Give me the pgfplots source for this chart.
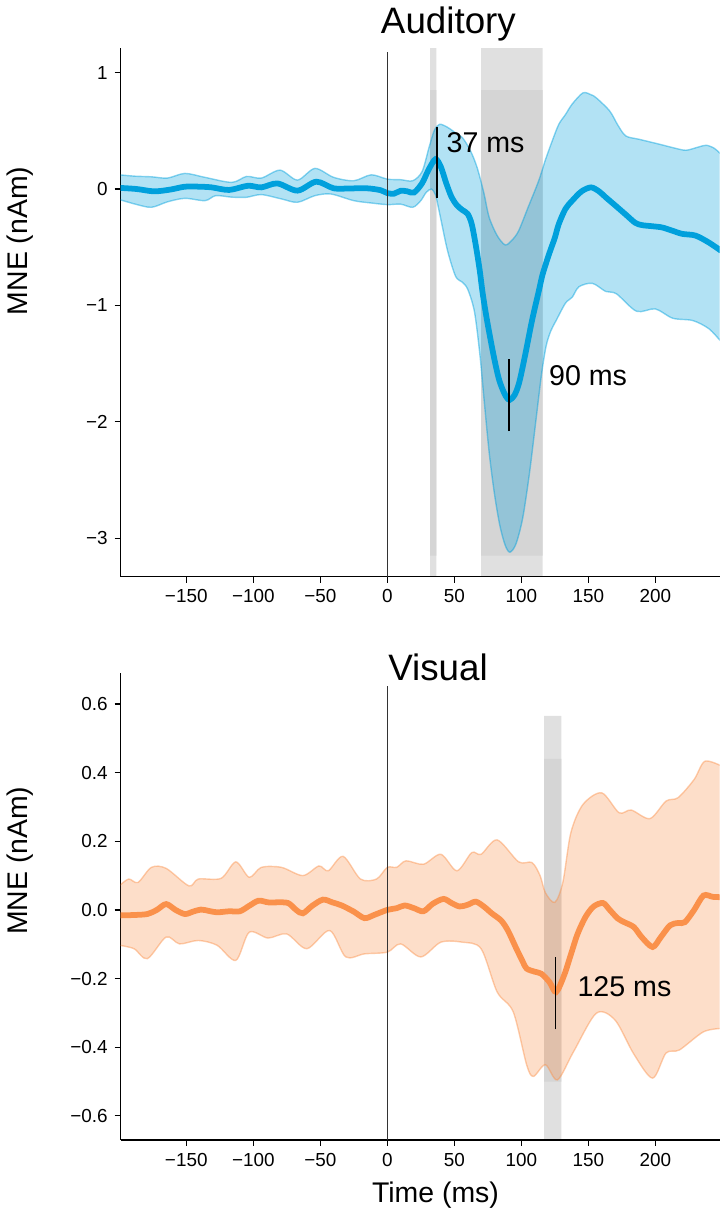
\documentclass[border=0pt]{standalone}
\usepackage{fontspec}
\setmainfont{Liberation Sans}
\usepackage{pgfplots}
\pgfplotsset{compat=1.18}
\usepgfplotslibrary{fillbetween}
\usepackage{pgfplotstable}

\definecolor{audblue}{RGB}{0,160,220}
\definecolor{visorange}{RGB}{250,145,75}
\definecolor{spanlight}{RGB}{224,224,224}
\definecolor{spandark}{RGB}{213,213,213}

% auditory: mean, lower and upper edge of the band
\pgfplotstableread{
t m
-200 0.01
-187 0.00
-174 -0.02
-162 -0.005
-151 0.02
-140 0.02
-131 0.014
-118 -0.008
-104 0.028
-94 0.014
-82 0.048
-67 -0.014
-53 0.063
-40 0.006
-28 0.005
-15 0.006
-5 -0.01
0 -0.035
5 -0.04
10 -0.015
15 -0.02
20 -0.03
26 0.05
31 0.17
36 0.256
40 0.19
44 0.05
48 -0.07
52 -0.14
56 -0.18
60 -0.214
63 -0.3
66 -0.48
69 -0.70
71 -0.88
74 -1.10
79 -1.41
83 -1.62
86 -1.72
89 -1.79
91.5 -1.81
95 -1.77
98.5 -1.66
103 -1.42
108 -1.13
113 -0.88
116 -0.73
121 -0.55
125 -0.42
128 -0.30
133 -0.17
138 -0.10
145 -0.02
152 0.014
158 -0.02
163 -0.071
170 -0.14
178 -0.22
185 -0.29
190 -0.31
198 -0.32
205 -0.33
212 -0.355
220 -0.385
230 -0.40
240 -0.46
249 -0.53
}\audmean

\pgfplotstableread{
t v
-200 0.122
-188 0.11
-176 0.105
-164 0.094
-151 0.134
-136 0.10
-116 0.057
-105 0.108
-94 0.094
-80 0.162
-67 0.077
-54 0.177
-40 0.10
-25 0.071
-12 0.122
0 0.085
10 0.08
19 0.071
26 0.15
31 0.35
35 0.50
39 0.556
45 0.53
50 0.49
56 0.442
62 0.33
67 0.186
72 -0.03
76 -0.242
82 -0.40
88 -0.48
93 -0.44
98 -0.36
105 -0.16
113 0.071
118 0.25
123 0.41
128 0.556
133 0.64
138 0.73
146 0.826
152 0.81
156 0.783
166 0.67
172 0.55
178 0.456
188 0.427
203 0.385
215 0.35
223 0.333
232 0.36
238 0.376
244 0.35
249 0.299
}\audup

\pgfplotstableread{
t v
-200 -0.09
-188 -0.13
-176 -0.157
-164 -0.11
-151 -0.08
-136 -0.10
-128 -0.057
-116 -0.07
-105 -0.071
-94 -0.048
-79 -0.085
-67 -0.114
-54 -0.057
-42 -0.043
-25 -0.10
-12 -0.12
0 -0.134
10 -0.13
19 -0.157
25 -0.10
29 -0.03
33 0.0
36 -0.05
38 -0.15
40 -0.26
45 -0.53
51 -0.75
56 -0.80
60 -0.86
65 -1.05
69 -1.41
72 -1.78
76 -2.26
80 -2.62
84 -2.89
88 -3.06
91.5 -3.12
96 -3.05
101 -2.83
106 -2.45
111 -1.98
115 -1.60
118.5 -1.35
122 -1.22
126 -1.13
133 -0.98
138 -0.93
143 -0.84
153 -0.81
163 -0.88
171 -0.90
186 -1.05
200 -1.03
213 -1.11
228 -1.13
240 -1.20
249 -1.31
}\audlo

% visual
\pgfplotstableread{
t m
-200 -0.016
-190 -0.015
-179 -0.012
-172 0.0
-165 0.017
-158 0.0
-151 -0.012
-145 -0.005
-139 0.001
-133 -0.003
-127 -0.007
-118 -0.004
-110 -0.004
-103 0.012
-96 0.027
-89 0.022
-82 0.022
-74 0.02
-68 0.0
-63 -0.01
-56 0.012
-48 0.03
-41 0.022
-34 0.013
-25 -0.005
-17 -0.024
-10 -0.015
0 0.0
7 0.005
13 0.013
20 0.005
27 -0.004
34 0.018
42 0.032
48 0.02
54 0.01
60 0.015
66 0.024
72 0.01
78 -0.01
85 -0.031
90 -0.06
96 -0.11
101 -0.15
104 -0.171
110 -0.18
115 -0.186
121 -0.21
126 -0.239
132 -0.19
137 -0.13
142 -0.07
148 -0.02
154 0.01
161 0.02
166 0.0
172 -0.025
177 -0.036
184 -0.05
190 -0.08
198 -0.108
204 -0.08
211 -0.045
217 -0.038
222 -0.036
229 0.0
236 0.042
243 0.038
250 0.037
}\vismean

\pgfplotstableread{
t v
-200 0.07
-193 0.09
-186 0.08
-176 0.124
-165 0.121
-148 0.07
-141 0.09
-124 0.092
-113 0.14
-103 0.095
-94 0.124
-79 0.124
-63 0.10
-51 0.128
-44 0.114
-33 0.156
-20 0.09
-8 0.09
0 0.124
7 0.124
14 0.143
27 0.133
40 0.162
52 0.114
63 0.167
70 0.162
82 0.204
98 0.14
108 0.138
114 0.10
118 0.05
125 0.022
131 0.08
137 0.225
146 0.307
160 0.341
173 0.283
182 0.291
196 0.266
208 0.317
217 0.327
229 0.38
237 0.433
250 0.418
}\visup

\pgfplotstableread{
t v
-200 -0.103
-189 -0.113
-179 -0.142
-165 -0.079
-155 -0.099
-141 -0.089
-127 -0.103
-113 -0.147
-103 -0.065
-89 -0.082
-75 -0.07
-60 -0.113
-43 -0.06
-31 -0.137
-17 -0.128
0 -0.123
10 -0.099
25 -0.137
40 -0.094
56 -0.094
70 -0.113
82 -0.239
94 -0.297
104 -0.451
109 -0.485
118 -0.451
127 -0.495
139 -0.413
156 -0.301
170 -0.321
184 -0.42
198 -0.49
208 -0.417
218 -0.408
236 -0.355
250 -0.345
}\vislo

\pgfplotsset{
  erp/.style={
    set layers,
    scale only axis, width=301.5pt,
    xmin=-199, xmax=248,
    axis x line*=bottom, axis y line*=left,
    axis line style={line width=0.7pt},
    tick style={line width=0.6pt, black},
    tick align=outside, major tick length=3pt,
    xtick={-150,-100,-50,0,50,100,150,200},
    xticklabels={−150,−100,−50,0,50,100,150,200},
    tick label style={font=\fontsize{9.5}{11}\selectfont},
  },
  span/.style={draw=none, on layer=axis background},
  edge/.style={line width=0.7pt, smooth, draw opacity=0.45},
  meanline/.style={line width=2.9pt, smooth},
}

\newcommand{\annot}{\fontsize{14.4}{16}\selectfont}
\newcommand{\lab}{\fontsize{14.3}{16}\selectfont}
\newcommand{\ttl}{\fontsize{18.5}{21}\selectfont}

\begin{document}
\begin{tikzpicture}

% ---- Auditory ----
\begin{axis}[erp, at={(60pt,-287.5pt)}, anchor=south west,
  height=266pt, ymin=-3.33, ymax=1.21,
  ytick={-3,-2,-1,0,1}, yticklabels={−3,−2,−1,0,1}]
\addplot[span, fill=spanlight] coordinates {(32,-3.33) (36.7,-3.33) (36.7,1.21) (32,1.21) (32,-3.33)};
\addplot[span, fill=spandark] coordinates {(32,-3.15) (36.7,-3.15) (36.7,0.85) (32,0.85) (32,-3.15)};
\addplot[span, fill=spanlight] coordinates {(70,-3.33) (116,-3.33) (116,1.21) (70,1.21) (70,-3.33)};
\addplot[span, fill=spandark] coordinates {(70,-3.15) (116,-3.15) (116,0.85) (70,0.85) (70,-3.15)};
\addplot[name path=aup, audblue, edge] table[x=t, y=v] {\audup};
\addplot[name path=alo, audblue, edge] table[x=t, y=v] {\audlo};
\addplot[audblue, fill opacity=0.3, draw=none] fill between[of=aup and alo];
\addplot[audblue, meanline] table[x=t, y=m] {\audmean};
\addplot[black!80, line width=0.5pt] coordinates {(0,-3.33) (0,1.18)};
\addplot[black, line width=0.9pt] coordinates {(37,-0.08) (37,0.535)};
\addplot[black, line width=0.9pt] coordinates {(91,-2.08) (91,-1.46)};
\node[anchor=west, inner sep=0pt, font=\annot] at (axis cs:44,0.397) {37 ms};
\node[anchor=west, inner sep=0pt, font=\annot] at (axis cs:120.5,-1.6) {90 ms};
\end{axis}

% ---- Visual ----
\begin{axis}[erp, at={(60pt,-571pt)}, anchor=south west,
  height=235pt, ymin=-0.67, ymax=0.69,
  ytick={-0.6,-0.4,-0.2,0,0.2,0.4,0.6},
  yticklabels={−0.6,−0.4,−0.2,0.0,0.2,0.4,0.6}]
\addplot[span, fill=spanlight] coordinates {(117,-0.67) (130,-0.67) (130,0.565) (117,0.565) (117,-0.67)};
\addplot[span, fill=spandark] coordinates {(117,-0.5) (130,-0.5) (130,0.44) (117,0.44) (117,-0.5)};
\addplot[name path=vup, visorange, edge] table[x=t, y=v] {\visup};
\addplot[name path=vlo, visorange, edge] table[x=t, y=v] {\vislo};
\addplot[visorange, fill opacity=0.3, draw=none] fill between[of=vup and vlo];
\addplot[visorange, meanline] table[x=t, y=m] {\vismean};
\addplot[black!80, line width=0.5pt] coordinates {(0,-0.67) (0,0.652)};
\addplot[black, line width=0.9pt] coordinates {(125.6,-0.348) (125.6,-0.137)};
\node[anchor=west, inner sep=0pt, font=\annot] at (axis cs:141.7,-0.224) {125 ms};
\end{axis}

% titles and axis labels
\node[anchor=base, font=\ttl] at (225pt,-14pt) {Auditory};
\node[anchor=base, font=\ttl] at (219.75pt,-340pt) {Visual};
\node[anchor=base, rotate=90, font=\lab] at (13pt,-118.5pt) {MNE (nAm)};
\node[anchor=base, rotate=90, font=\lab] at (13pt,-430.5pt) {MNE (nAm)};
\node[anchor=base, font=\lab] at (218.5pt,-602.5pt) {Time (ms)};
\path (0,0) rectangle (362pt,-607.5pt);
\end{tikzpicture}
\end{document}
